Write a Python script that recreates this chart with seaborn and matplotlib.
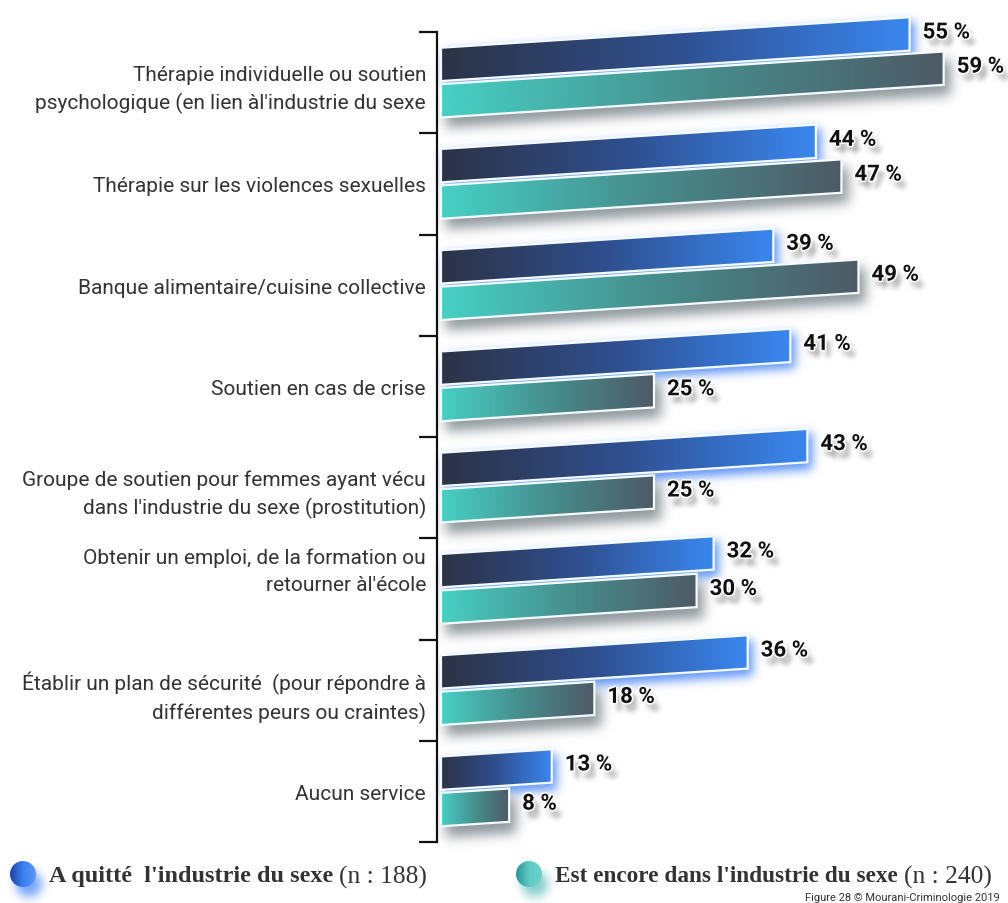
import numpy as np
import pandas as pd
import seaborn as sns
import matplotlib
matplotlib.use("Agg")
import matplotlib.pyplot as plt
import matplotlib.transforms as mtransforms
from matplotlib.patches import Polygon, Circle
from matplotlib.colors import LinearSegmentedColormap, to_rgb
import matplotlib.patheffects as pe

# ---- data -------------------------------------------------------------
categories = [
    "Thérapie individuelle ou soutien\npsychologique (en lien àl'industrie du sexe",
    "Thérapie sur les violences sexuelles",
    "Banque alimentaire/cuisine collective",
    "Soutien en cas de crise",
    "Groupe de soutien pour femmes ayant vécu\ndans l'industrie du sexe (prostitution)",
    "Obtenir un emploi, de la formation ou\nretourner àl'école",
    "Établir un plan de sécurité  (pour répondre à\ndifférentes peurs ou craintes)",
    "Aucun service",
]
a_quitte = [55, 44, 39, 41, 43, 32, 36, 13]
encore = [59, 47, 49, 25, 25, 30, 18, 8]
groups = ["A quitté  l'industrie du sexe", "Est encore dans l'industrie du sexe"]
group_n = [188, 240]
credit = "Figure 28 © Mourani-Criminologie 2019"

df = pd.DataFrame({
    "service": categories * 2,
    "pct": a_quitte + encore,
    "groupe": [groups[0]] * len(categories) + [groups[1]] * len(categories),
})

# ---- styling ------------------------------------------------------------
sns.set_theme(style="white")
plt.rcParams["font.family"] = ["Roboto", "DejaVu Sans"]

W, H = 1008, 904
fig = plt.figure(figsize=(W / 100, H / 100), dpi=100)
fig.patch.set_facecolor("white")

# axes placed in pixel terms
ax_l, ax_r, ax_t, ax_b = 437, 1000, 33, 843
ax_rect = [ax_l / W, 1 - ax_b / H, (ax_r - ax_l) / W, (ax_b - ax_t) / H]
ax = fig.add_axes(ax_rect)

sns.barplot(data=df, y="service", x="pct", hue="groupe", orient="h",
            hue_order=groups, order=categories, ax=ax,
            width=0.72, gap=0.085, legend=False, errorbar=None)

PX_PER_PCT = 8.52
x_lo = -(441 - ax_l) / PX_PER_PCT
x_hi = x_lo + (ax_r - ax_l) / PX_PER_PCT
px_per_cat = (ax_b - ax_t) / len(categories)
SLOPE = 0.065 * PX_PER_PCT / px_per_cat   # rise in category units per percent

grad_colors = [
    ["#2c3346", "#2f4f8f", "#3a87f0"],
    ["#46d0c4", "#468f8e", "#4e5a66"],
]

def shear(w, y):
    return y - SLOPE * w

def add_gradient_bar(verts, cols):
    poly = Polygon(verts, closed=True, facecolor="none", edgecolor="none",
                   zorder=2, clip_on=False)
    ax.add_patch(poly)
    cmap = LinearSegmentedColormap.from_list("bar", cols)
    grad = np.linspace(0, 1, 256).reshape(1, -1)
    xs, ys = verts[:, 0], verts[:, 1]
    im = ax.imshow(grad, cmap=cmap, aspect="auto", interpolation="bilinear",
                   extent=(xs.min(), xs.max(), ys.max(), ys.min()), zorder=2)
    im.set_clip_box(fig.bbox)
    im.set_clip_path(poly)
    ax.add_patch(Polygon(verts, closed=True, facecolor="none", edgecolor="#f4fbff",
                         lw=1.6, zorder=3, joinstyle="miter", clip_on=False))

label_effects = [pe.Stroke(linewidth=2.2, foreground="white"), pe.Normal()]
label_style = dict(ha="left", va="center", fontsize=16, fontweight="bold")

bar_verts = [[], []]
value_labels = []
for gi, container in enumerate(ax.containers):
    for bar in container:
        x0 = bar.get_x()
        w = bar.get_width()
        y0 = bar.get_y()
        h = bar.get_height()
        yc = y0 + h / 2
        verts = np.array([
            [x0, y0], [x0 + w, shear(w, y0)],
            [x0 + w, shear(w, y0 + h)], [x0, y0 + h],
        ])
        bar.set_visible(False)
        bar_verts[gi].append(verts)
        add_gradient_bar(verts, grad_colors[gi])
        pos = (x0 + w + 13 / PX_PER_PCT, shear(w, yc) - 1.5 / px_per_cat)
        txt = f"{w:.0f} %"
        value_labels.append((pos, txt))
        ax.text(*pos, txt, color="#111111", zorder=5, path_effects=label_effects,
                **label_style)

ax.set_xlim(x_lo, x_hi)
ax.set_ylim(len(categories) - 0.5, -0.5)

# axis styling
for side in ["top", "right", "bottom"]:
    ax.spines[side].set_visible(False)
ax.spines["left"].set_color("#111111")
ax.spines["left"].set_linewidth(1.6)
ax.set_xticks([])
ax.set_xlabel("")
ax.set_ylabel("")
ax.set_yticks(range(len(categories)))
ax.set_yticklabels(categories, fontsize=15, color="#333333", linespacing=1.5)
ax.set_yticks(np.arange(-0.5, len(categories) + 0.5, 1), minor=True)
ax.tick_params(axis="y", which="major", left=True, length=0, pad=8)
ax.tick_params(axis="y", which="minor", left=True, length=13, width=1.6,
               color="#111111", direction="out")
ax.patch.set_alpha(0)

# the two-line employment label sits a little higher than its slot
emp_label = ax.get_yticklabels()[5]
emp_label.set_transform(emp_label.get_transform() +
                        mtransforms.ScaledTranslation(0, 0.24, fig.dpi_scale_trans))

# ---- legend along the bottom -----------------------------------------
ov = fig.add_axes([0, 0, 1, 1], zorder=10)
ov.set_xlim(0, W)
ov.set_ylim(H, 0)
ov.axis("off")
ov.patch.set_alpha(0)

dot_colors = [["#1f3f9a", "#3b7ff0", "#5a9af5"], ["#2b8f92", "#5fc9c3", "#6fd3cc"]]
dot_centers = [(23, 875), (529, 875)]
dot_r = 13
name_x = [49, 555]
name_w = [285, 343]
n_w = 88
legend_y = 877
renderer = fig.canvas.get_renderer()

def fitted_text(x, y, s, target_w, **kw):
    t = ov.text(x, y, s, **kw)
    bw = t.get_window_extent(renderer=renderer).width
    t.set_fontsize(t.get_fontsize() * target_w / bw)
    return t

for i in range(2):
    cx, cy = dot_centers[i]
    circ = Circle((cx, cy), dot_r, facecolor="none", edgecolor="none", zorder=2)
    ov.add_patch(circ)
    cmap = LinearSegmentedColormap.from_list("dot", dot_colors[i])
    img = np.outer(np.ones(64), np.linspace(0, 1, 64))
    im = ov.imshow(img, cmap=cmap, extent=(cx - 14, cx + 14, cy + 14, cy - 14),
                   aspect="auto", zorder=2, interpolation="bilinear")
    im.set_clip_path(circ)

    t1 = fitted_text(name_x[i], legend_y, groups[i], name_w[i], ha="left",
                     va="center", fontsize=16, fontweight="bold", color="#333333",
                     family=["Liberation Serif"], zorder=3)
    bb = t1.get_window_extent(renderer=renderer)
    fitted_text(bb.x1 + 6, legend_y, f"(n : {group_n[i]})", n_w, ha="left",
                va="center", fontsize=16, color="#333333",
                family=["Liberation Serif"], zorder=3)

ov.text(1000, 898, credit, ha="right", va="center", fontsize=8, color="#333333")

# ---- soft shadows and glows -------------------------------------------
def render_mask(draw):
    f = plt.figure(figsize=(W / 100, H / 100), dpi=100)
    f.patch.set_alpha(0)
    a = f.add_axes(ax_rect)
    a.set_xlim(x_lo, x_hi)
    a.set_ylim(len(categories) - 0.5, -0.5)
    a.axis("off")
    o = f.add_axes([0, 0, 1, 1])
    o.set_xlim(0, W)
    o.set_ylim(H, 0)
    o.axis("off")
    draw(a, o)
    f.canvas.draw()
    m = np.asarray(f.canvas.buffer_rgba())[..., 3].astype(float) / 255
    plt.close(f)
    return m

def blur(m, sigma):
    r = int(3 * sigma)
    k = np.exp(-0.5 * (np.arange(-r, r + 1) / sigma) ** 2)
    k /= k.sum()
    m = np.apply_along_axis(lambda v: np.convolve(v, k, mode="same"), 0, m)
    m = np.apply_along_axis(lambda v: np.convolve(v, k, mode="same"), 1, m)
    return m

def shift(m, dx, dy):
    h, w = m.shape
    out = np.zeros_like(m)
    out[dy:, dx:] = m[:h - dy, :w - dx]
    return out

def draw_bars(gi):
    def _d(a, o):
        for v in bar_verts[gi]:
            a.add_patch(Polygon(v, closed=True, facecolor="k", edgecolor="k",
                                lw=1.6, clip_on=False))
    return _d

def draw_labels(a, o):
    for pos, txt in value_labels:
        a.text(*pos, txt, color="k", **label_style)

def draw_dots(i):
    def _d(a, o):
        o.add_patch(Circle(dot_centers[i], dot_r, facecolor="k", edgecolor="none"))
    return _d

shadow_specs = [
    (draw_bars(0), "#3a7cf5", 4, 6, 5.0, 0.8),
    (draw_bars(1), "#5f6d74", 6, 10, 6.0, 0.7),
    (draw_labels, "#555555", 5, 7, 2.5, 0.6),
    (draw_dots(0), "#3a7cf5", 6, 10, 5.0, 0.7),
    (draw_dots(1), "#4fb7b3", 6, 10, 5.0, 0.7),
]

bg = fig.add_axes([0, 0, 1, 1], zorder=-1)
bg.set_xlim(0, W)
bg.set_ylim(H, 0)
bg.axis("off")
for draw, color, dx, dy, sigma, amax in shadow_specs:
    m = blur(shift(render_mask(draw), dx, dy), sigma)
    layer = np.zeros(m.shape + (4,))
    layer[..., :3] = to_rgb(color)
    layer[..., 3] = np.clip(m * amax, 0, 1)
    bg.imshow(layer, extent=(0, W, H, 0), interpolation="none", aspect="auto")

fig.savefig("out.png", dpi=100, facecolor="white")
